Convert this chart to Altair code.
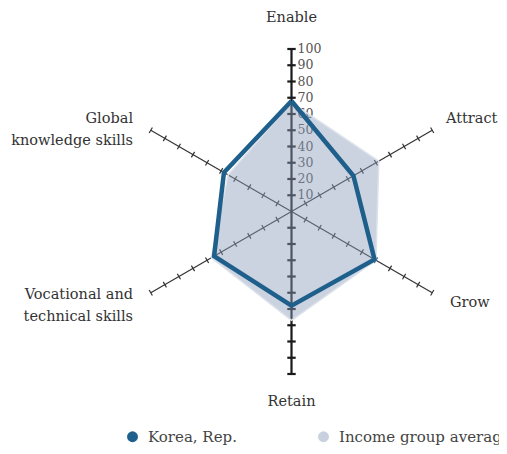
import altair as alt
import pandas as pd

categories = ["Enable", "Attract", "Grow", "Retain",
              "Vocational and\ntechnical skills", "Global\nknowledge skills"]
korea = [68, 44, 59, 58, 55, 48]
income = [67, 62, 60, 67, 57, 45]
series = ["Korea, Rep.", "Income group average"]
levels = [10, 20, 30, 40, 50, 60, 70, 80, 90, 100]
tick_labels = ["10", "20", "30", "40", "50", "60", "70", "80", "90", "100"]

BLUE = "#1f5f8b"
GREY = "#c9d1de"
FONT = "DejaVu Serif"

W, H = 491, 438
CX, CY = 283.5, 203.5
K = 1.625  # px per unit
xdom = [-CX / K, (W - CX) / K]
ydom = [-(H - CY) / K, CY / K]

X = alt.X("x:Q", scale=alt.Scale(domain=xdom, nice=False, zero=False), axis=None)
Y = alt.Y("y:Q", scale=alt.Scale(domain=ydom, nice=False, zero=False), axis=None)


def poly(vals, name):
    rows = [{"idx": i, "value": v, "series": name, "ord": i} for i, v in enumerate(vals)]
    rows.append({"idx": 0, "value": vals[0], "series": name, "ord": len(vals)})
    return pd.DataFrame(rows)


spokes_df = pd.DataFrame({"idx": list(range(len(categories))), "cat": categories})
ticks_df = pd.DataFrame([{"idx": i, "L": L} for i in range(len(categories)) for L in levels])
labels_df = pd.DataFrame({"L": levels, "txt": tick_labels})

ang = "datum.idx * PI / 3"

spokes = alt.Chart(spokes_df).transform_calculate(
    a=ang, x="0", y="0",
    x2="100 * sin(datum.a)", y2="100 * cos(datum.a)",
)
spokes_diag = spokes.transform_filter("datum.idx % 3 != 0").mark_rule(
    color="#333333", strokeWidth=1.2
).encode(x=X, y=Y, x2="x2:Q", y2="y2:Q")
spokes_vert = spokes.transform_filter("datum.idx % 3 == 0").mark_rule(
    color="#1a1a1a", strokeWidth=2.2
).encode(x=X, y=Y, x2="x2:Q", y2="y2:Q")


def tick_layer(filt, h, color, sw):
    return alt.Chart(ticks_df).transform_filter(filt).transform_calculate(
        a=ang,
        x=f"datum.L * sin(datum.a) + {h} * cos(datum.a)",
        y=f"datum.L * cos(datum.a) - {h} * sin(datum.a)",
        x2=f"datum.L * sin(datum.a) - {h} * cos(datum.a)",
        y2=f"datum.L * cos(datum.a) + {h} * sin(datum.a)",
    ).mark_rule(color=color, strokeWidth=sw).encode(x=X, y=Y, x2="x2:Q", y2="y2:Q")


ticks_diag = tick_layer("datum.idx % 3 != 0", 3.2 / K, "#333333", 1.2)
ticks_vert = tick_layer("datum.idx % 3 == 0", 4.2 / K, "#1a1a1a", 2.2)

tick_text = alt.Chart(labels_df).transform_calculate(x="0", y="datum.L").mark_text(
    align="left", baseline="middle", dx=6, font=FONT, fontSize=12.5, color="#555555"
).encode(x=X, y=Y, text="txt:N")

calc_xy = dict(a=ang, x="datum.value * sin(datum.a)", y="datum.value * cos(datum.a)")

income_poly = alt.Chart(poly(income, series[1])).transform_calculate(**calc_xy).mark_line(
    fill="#8b9dba", fillOpacity=0.45, stroke="#dde2ea", strokeWidth=1.5, strokeJoin="miter"
).encode(x=X, y=Y, order="ord:Q")

korea_poly = alt.Chart(poly(korea, series[0])).transform_calculate(**calc_xy).mark_line(
    stroke=BLUE, strokeWidth=4.5, strokeJoin="miter"
).encode(x=X, y=Y, order="ord:Q")

cat = alt.Chart(spokes_df).transform_calculate(
    a=ang,
    r="datum.idx == 0 ? 119 : (datum.idx == 3 ? 117.5 : 112.6)",
    xo=f"datum.idx == 1 ? {-4 / K} : 0",
    yo=f"datum.idx == 4 ? {8 / K} : (datum.idx == 5 ? {1.5 / K} : (datum.idx == 1 ? {1.5 / K} : 0))",
    x="datum.r * sin(datum.a) + datum.xo", y="datum.r * cos(datum.a) + datum.yo",
)
txt_kw = dict(baseline="middle", font=FONT, fontSize=14.5, color="#333333",
              lineBreak="\n", lineHeight=22.5)
cat_c = cat.transform_filter("datum.idx % 3 == 0").mark_text(align="center", **txt_kw).encode(
    x=X, y=Y, text="cat:N")
cat_l = cat.transform_filter("datum.idx == 1 || datum.idx == 2").mark_text(align="left", **txt_kw).encode(
    x=X, y=Y, text="cat:N")
cat_r = cat.transform_filter("datum.idx >= 4").mark_text(align="right", **txt_kw).encode(
    x=X, y=Y, text="cat:N")

legend_layer = alt.Chart(pd.DataFrame({"series": series})).transform_calculate(
    x="0", y="0"
).mark_circle(opacity=0).encode(
    x=X, y=Y,
    color=alt.Color(
        "series:N",
        scale=alt.Scale(domain=series, range=[BLUE, GREY]),
        legend=alt.Legend(
            orient="none", legendX=117, legendY=421, direction="horizontal", title=None,
            symbolType="circle", symbolSize=120, symbolOpacity=1, symbolStrokeWidth=0,
            labelFont=FONT, labelFontSize=15, labelColor="#444444", labelOffset=8,
            columnPadding=79, labelLimit=400,
        ),
    ),
)

chart = alt.layer(
    spokes_diag, spokes_vert, ticks_diag, ticks_vert, tick_text,
    income_poly, korea_poly, cat_c, cat_l, cat_r, legend_layer,
).properties(
    width=W, height=H, padding=0, autosize=alt.AutoSizeParams(type="none"),
    background="white",
).configure_view(stroke=None)

chart.save("out.html", embed_options={"renderer": "svg", "actions": False})
